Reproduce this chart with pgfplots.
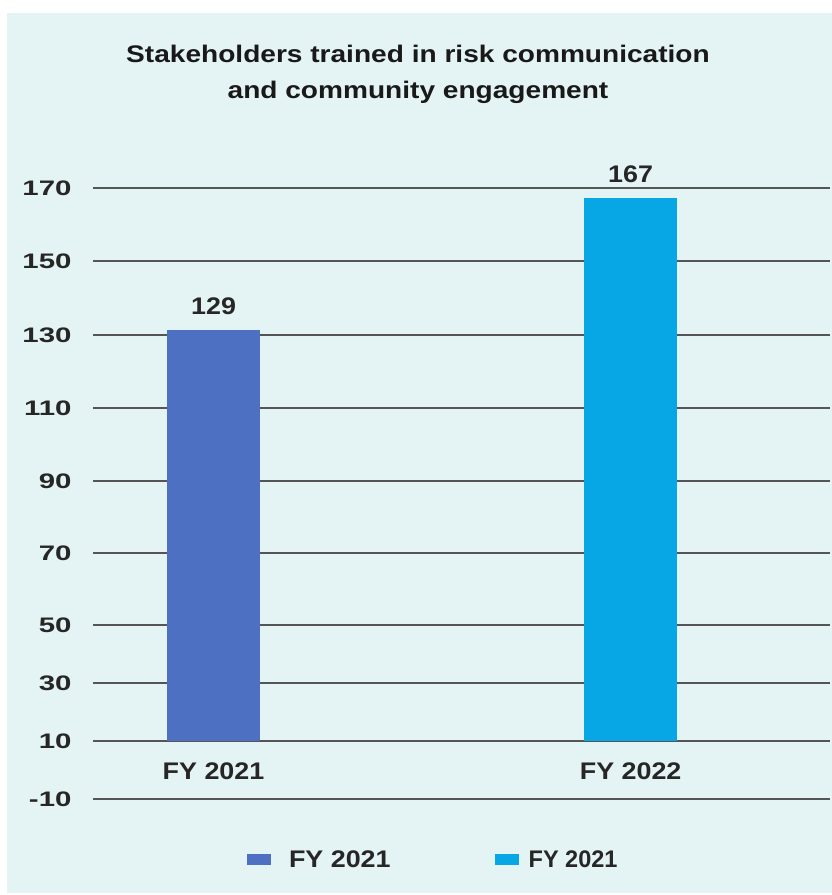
\documentclass[border=0pt]{standalone}
\usepackage{pgfplots}
\pgfplotsset{compat=1.18}
\usepackage{fontspec}
\setmainfont{Liberation Sans}
\newfontfamily\lblfont[FakeStretch=1.12]{Liberation Sans}
\newfontfamily\tickfont[FakeStretch=1.4]{Liberation Sans}
\newfontfamily\narrowfont[FakeStretch=0.98]{Liberation Sans}
\newfontfamily\titlefont[FakeStretch=1.17]{Liberation Sans}

\definecolor{bgcyan}{RGB}{228,243,243}
\definecolor{barA}{RGB}{77,112,195}
\definecolor{barB}{RGB}{6,167,228}
\definecolor{gridc}{RGB}{85,85,85}

\begin{document}
\begin{tikzpicture}
% page and panel
\fill[white] (0pt,0pt) rectangle (832pt,895pt);
\useasboundingbox (0pt,0pt) rectangle (832pt,895pt);
\fill[bgcyan] (7pt,2pt) rectangle (832pt,882pt);

\begin{axis}[
  scale only axis,
  width=737pt, height=611pt,
  at={(93pt,96pt)}, anchor=south west,
  axis line style={draw=none},
  xmin=-0.289, xmax=1.478,
  % gridlines sit where the reference draws them (not evenly spaced)
  ymin=-16.78, ymax=160,
  ytick={-16.78,0,16.78,33.56,54.39,75.23,96.35,117.47,138.88,160},
  yticklabels={-10,10,30,50,70,90,110,130,150,170},
  xtick={0,1},
  xticklabels={FY 2021,FY 2022},
  major tick length=0pt,
  ymajorgrids,
  grid style={gridc, line width=1.3pt},
  yticklabel style={font=\tickfont\bfseries\fontsize{21}{24}\selectfont, text=black!85, anchor=east, xshift=-18pt},
  xticklabel style={font=\lblfont\bfseries\fontsize{24}{28}\selectfont, text=black!85, anchor=center, yshift=28pt},
  ybar, bar width=93pt, bar shift=0pt,
  y filter/.expression={y-10},
  point meta=explicit symbolic,
  nodes near coords,
  nodes near coords style={font=\lblfont\bfseries\fontsize{24}{28}\selectfont, text=black!85, anchor=south, inner sep=0pt, yshift=15pt},
  title={Stakeholders trained in risk communication\\and community engagement},
  title style={at={(axis description cs:0.441,1.176)}, anchor=center, align=center,
    font=\titlefont\bfseries\fontsize{24}{36}\selectfont, text=black!90},
  legend columns=2,
  legend style={at={(axis description cs:0.209,-0.0998)}, anchor=west,
    draw=none, fill=none, inner sep=0pt, outer sep=0pt,
    nodes={inner sep=0pt, text=black!85},
    /tikz/column 1/.style={column sep=18pt},
    /tikz/column 2/.style={column sep=104pt},
    /tikz/column 3/.style={column sep=10pt}},
  clip=false,
]
\addplot[fill=barA, draw=none,
  legend image code/.code={\fill[barA] (0pt,-5.5pt) rectangle (24pt,5.5pt);}]
  coordinates {(0,129) [129]};
\addlegendentry{\lblfont\bfseries\fontsize{24}{28}\selectfont FY 2021}
\addplot[fill=barB, draw=none,
  legend image code/.code={\fill[barB] (0pt,-5.5pt) rectangle (24pt,5.5pt);}]
  coordinates {(1,167) [167]};
\addlegendentry{\narrowfont\bfseries\fontsize{24}{28}\selectfont FY 2021}
\end{axis}
\end{tikzpicture}
\end{document}
